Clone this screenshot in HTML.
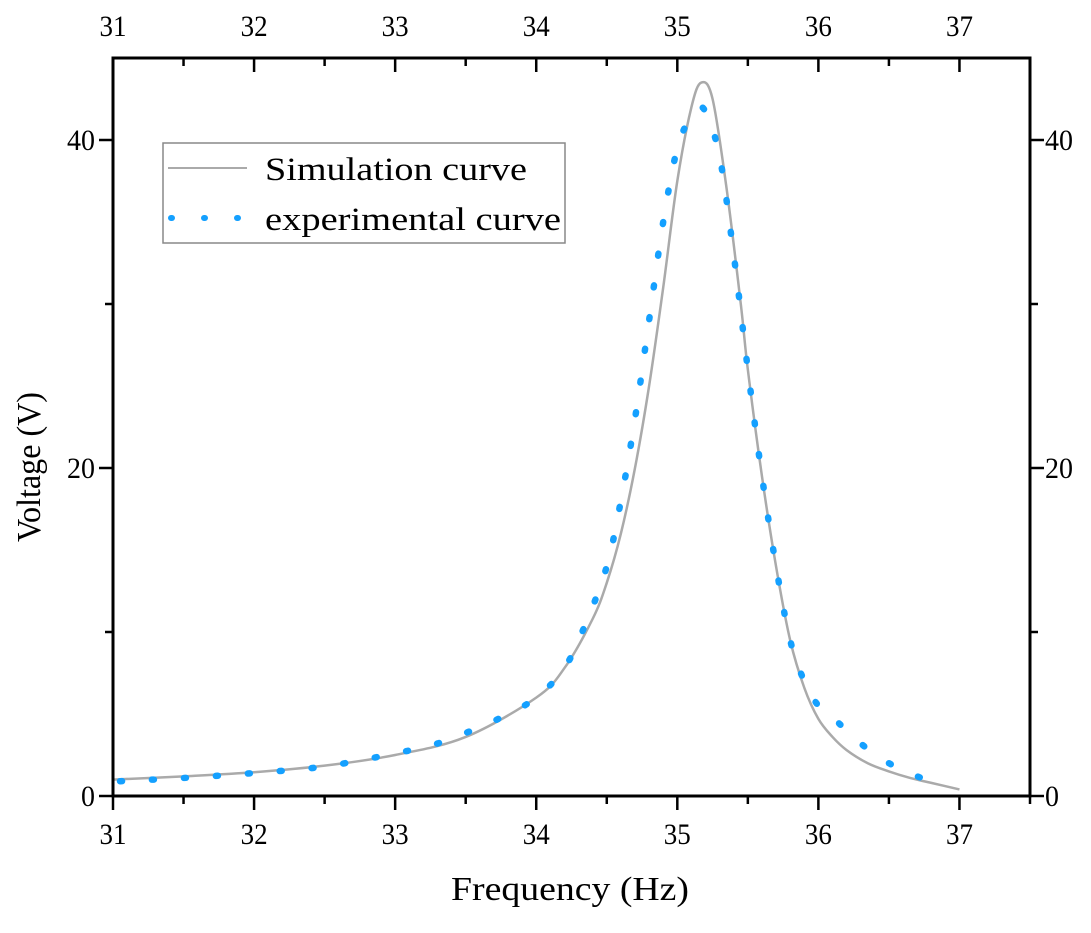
<!DOCTYPE html>
<html><head><meta charset="utf-8"><style>
body{margin:0;background:#fff}
svg{display:block;font-family:"Liberation Serif",serif}
</style></head><body>
<svg id="chart" width="1091" height="933">
<g id="marks"></g><g id="axes"></g>
<g>
<rect x="163" y="143" width="402" height="100" fill="#fff" stroke="#888" stroke-width="1.5"/>
<line x1="168" y1="168" x2="247" y2="168" stroke="#aaa" stroke-width="2"/>
<text x="265" y="180" font-size="33" textLength="262" lengthAdjust="spacingAndGlyphs">Simulation curve</text>
<line x1="171" y1="218" x2="247" y2="218" stroke="#14a0ff" stroke-width="6" stroke-dasharray="1 32" stroke-linecap="round"/>
<text x="265" y="230" font-size="33" textLength="296" lengthAdjust="spacingAndGlyphs">experimental curve</text>
</g>
<text x="570" y="900" font-size="34" text-anchor="middle" textLength="238" lengthAdjust="spacingAndGlyphs">Frequency (Hz)</text>
<text transform="translate(40,467) rotate(-90)" font-size="34" text-anchor="middle" textLength="150" lengthAdjust="spacingAndGlyphs">Voltage (V)</text>
</svg>
<script>
const simFreq=[31,31.5,32,32.5,33,33.5,34,34.2,34.4,34.5,34.6,34.7,34.8,34.9,35,35.1,35.17,35.25,35.35,35.45,35.5,35.6,35.7,35.8,35.9,36,36.1,36.2,36.35,36.5,36.65,36.8,37];
const simVolt=[1.0,1.2,1.45,1.85,2.5,3.6,6.0,7.8,10.8,13,16,20,25,31,37.5,42,43.5,42.5,37,30,26,19.5,14,9.5,6.6,4.7,3.6,2.8,2.0,1.5,1.1,0.8,0.4];
const expFreq=[31.05,31.5,32,32.5,33,33.3,33.6,33.8,34,34.2,34.35,34.5,34.6,34.7,34.8,34.9,35,35.1,35.15,35.2,35.3,35.4,35.5,35.6,35.7,35.8,35.9,36,36.1,36.3,36.5,36.7,36.9];
const expVolt=[0.9,1.1,1.4,1.8,2.6,3.2,4.2,5.0,6.0,7.8,10.5,14,18,23,29,35,39.5,41.5,41.9,41.7,39,33,26,19.5,14,9.5,7,5.5,4.8,3.2,2.0,1.2,0.6];
const xTicks=[31,32,33,34,35,36,37];
const yTicks=[0,20,40];
const X0=31,X1=37.5,Y0=0,Y1=45,L=113,R=1030,T=58,B=796;
const sx=v=>L+(v-X0)/(X1-X0)*(R-L);
const sy=v=>B-(v-Y0)/(Y1-Y0)*(B-T);
const NS="http://www.w3.org/2000/svg";
const axes=document.getElementById('axes'),marks=document.getElementById('marks');
function mk(p,tag,at){const e=document.createElementNS(NS,tag);for(const k in at)e.setAttribute(k,at[k]);p.appendChild(e);return e;}
function smooth(fs,vs){const p=fs.map((f,i)=>[sx(f),sy(vs[i])]);let d='M'+p[0][0]+','+p[0][1];
for(let i=0;i<p.length-1;i++){const a=p[Math.max(i-1,0)],b=p[i],c=p[i+1],e=p[Math.min(i+2,p.length-1)];
d+=' C'+(b[0]+(c[0]-a[0])/6)+','+(b[1]+(c[1]-a[1])/6)+' '+(c[0]-(e[0]-b[0])/6)+','+(c[1]-(e[1]-b[1])/6)+' '+c[0]+','+c[1];}return d;}
const frame=mk(axes,'rect',{x:L,y:T,width:R-L,height:B-T,fill:'none',stroke:'#000','stroke-width':3});


for(let v=31;v<=37.5;v+=0.5){
  const big=Number.isInteger(v),len=big?14:8,x=sx(v);
  const t1=mk(axes,'line',{x1:x,y1:B,x2:x,y2:B+len,stroke:'#000','stroke-width':2.5});
  
  
  const t2=mk(axes,'line',{x1:x,y1:T,x2:x,y2:T+len,stroke:'#000','stroke-width':2.5});
  
  
}
xTicks.forEach(v=>{
  const a=mk(axes,'text',{x:sx(v),y:B+48,'font-size':30,'text-anchor':'middle',textLength:27,lengthAdjust:'spacingAndGlyphs'});a.textContent=v;
  
  
  const b=mk(axes,'text',{x:sx(v),y:36,'font-size':30,'text-anchor':'middle',textLength:27,lengthAdjust:'spacingAndGlyphs'});b.textContent=v;
  
  
});
for(let v=0;v<=40;v+=10){
  const big=v%20===0,len=big?14:8,y=sy(v);
  const a=mk(axes,'line',{x1:L-len,y1:y,x2:L,y2:y,stroke:'#000','stroke-width':2.5});
  
  
  const b=mk(axes,'line',{x1:R,y1:y,x2:R+len,y2:y,stroke:'#000','stroke-width':2.5});
  
  
}
yTicks.forEach(v=>{
  const w=v===0?14:28;
  const a=mk(axes,'text',{x:L-18,y:sy(v)+10,'font-size':30,'text-anchor':'end',textLength:w,lengthAdjust:'spacingAndGlyphs'});a.textContent=v;
  
  
  const b=mk(axes,'text',{x:R+15,y:sy(v)+10,'font-size':30,'text-anchor':'start',textLength:w,lengthAdjust:'spacingAndGlyphs'});b.textContent=v;
  
  
});
const sim=mk(marks,'path',{d:smooth(simFreq,simVolt),fill:'none',stroke:'#aaa','stroke-width':2.5,'stroke-linejoin':'round'});


const ex=mk(marks,'path',{d:smooth(expFreq,expVolt),fill:'none',stroke:'#14a0ff','stroke-width':6.5,'stroke-dasharray':'2 30','stroke-linecap':'round'});


</script>
</body></html>
